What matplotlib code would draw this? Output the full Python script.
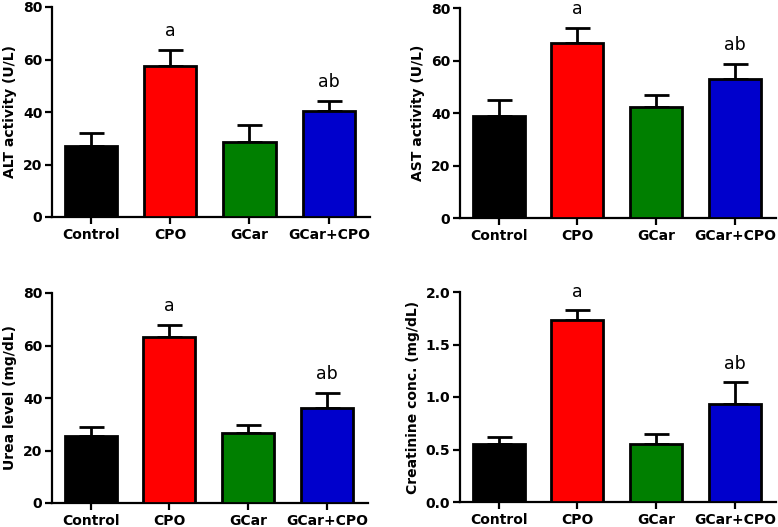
import matplotlib
matplotlib.use("Agg")
import matplotlib.pyplot as plt

plt.rcParams['font.family'] = ['DejaVu Sans']

groups = ["Control", "CPO", "GCar", "GCar+CPO"]
colors = ["#000000", "#ff0000", "#007f00", "#0000cc"]

alt_mean = [27.2, 57.6, 28.7, 40.4]
alt_err = [4.7, 6.0, 6.3, 3.9]
ast_mean = [39.0, 66.9, 42.3, 53.2]
ast_err = [6.0, 5.7, 4.6, 5.5]
urea_mean = [25.6, 63.2, 26.7, 36.2]
urea_err = [3.4, 4.7, 3.1, 5.7]
creat_mean = [0.556, 1.737, 0.552, 0.933]
creat_err = [0.063, 0.088, 0.099, 0.207]

letters = ["", "a", "", "ab"]

panels = [
    dict(mean=alt_mean, err=alt_err, ylabel="ALT activity (U/L)", ymax=80, step=20, fmt="{:.0f}",
         rect=[52/778, 1-217/527, 318/778, 210/527]),
    dict(mean=ast_mean, err=ast_err, ylabel="AST activity (U/L)", ymax=80, step=20, fmt="{:.0f}",
         rect=[460/778, 1-218.3/527, 316/778, 210/527]),
    dict(mean=urea_mean, err=urea_err, ylabel="Urea level (mg/dL)", ymax=80, step=20, fmt="{:.0f}",
         rect=[52/778, 1-503/527, 316/778, 210/527]),
    dict(mean=creat_mean, err=creat_err, ylabel="Creatinine conc. (mg/dL)", ymax=2.0, step=0.5, fmt="{:.1f}",
         rect=[460/778, 1-502/527, 316/778, 210/527]),
]

fig = plt.figure(figsize=(7.78, 5.27), dpi=100)

for p in panels:
    ax = fig.add_axes(p["rect"])
    x = list(range(len(groups)))
    ax.bar(x, p["mean"], width=0.66, color=colors, edgecolor="black", linewidth=2.0, zorder=3)
    ax.errorbar(x, p["mean"], yerr=[[0]*4, p["err"]], fmt="none", ecolor="black",
                elinewidth=2.0, capsize=9, capthick=2.0, zorder=2)
    ax.set_xlim(-0.49, 3.52)
    ax.set_ylim(0, p["ymax"])
    ticks = [i*p["step"] for i in range(int(round(p["ymax"]/p["step"]))+1)]
    ax.set_yticks(ticks)
    ax.set_yticklabels([p["fmt"].format(t) for t in ticks], fontweight="bold", fontsize=10)
    ax.set_xticks(x)
    ax.set_xticklabels(groups, fontweight="bold", fontsize=10)
    ax.set_ylabel(p["ylabel"], fontweight="bold", fontsize=10, labelpad=4)
    for s in ["top", "right"]:
        ax.spines[s].set_visible(False)
    for s in ["left", "bottom"]:
        ax.spines[s].set_linewidth(1.6)
    ax.tick_params(axis="both", width=1.6, length=5, direction="out", pad=2)
    ax.tick_params(axis="x", pad=3)
    for i, lt in enumerate(letters):
        if lt:
            ax.annotate(lt, (i, p["mean"][i] + p["err"][i]), xytext=(0, 7),
                        textcoords="offset points", ha="center", va="bottom", fontsize=12.5,
                        annotation_clip=False)

fig.savefig("out.png", dpi=100)
